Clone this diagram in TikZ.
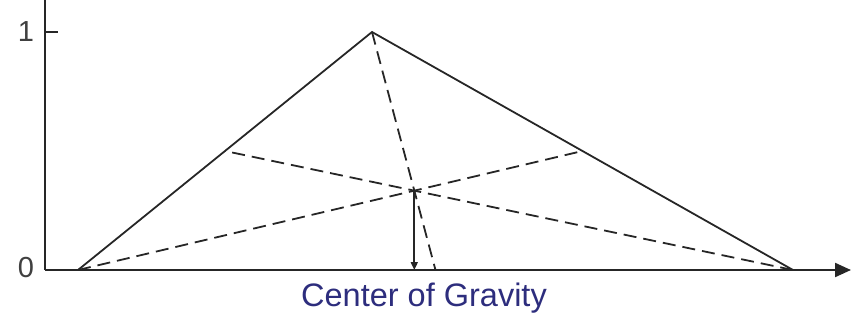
\documentclass[tikz,border=0pt]{standalone}
\usepackage{fontspec}
\setmainfont{Liberation Sans}
\usetikzlibrary{arrows.meta,calc}
\definecolor{labelblue}{RGB}{45,45,125}
\begin{document}
\begin{tikzpicture}[x=1pt,y=-1pt,
  axis/.style={line width=2.2pt,black!85},
  edge/.style={line width=1.8pt,black!85},
  median/.style={line width=1.8pt,black!85,dash pattern=on 13pt off 7pt},
  lbl/.style={font=\fontsize{29}{32}\selectfont,text=black!75,inner sep=0pt}]
\useasboundingbox (0,0) rectangle (855,327);
\coordinate (O) at (45,270);
\coordinate (Ytop) at (45,0);
\coordinate (Xend) at (851,270);
\coordinate (T1) at (58,32);
\coordinate (T1a) at (45,32);
\coordinate (A) at (78,270);
\coordinate (B) at (372,32);
\coordinate (C) at (793,270);
\coordinate (MAB) at ($ (A)!0.5!(B) $);
\coordinate (MBC) at ($ (B)!0.5!(C) $);
\coordinate (MAC) at ($ (A)!0.5!(C) $);
\coordinate (G) at (414.3,190.7);
\coordinate (Gx) at (414.3,270);
\draw[axis] (Ytop) -- (O);
\draw[axis,-{Triangle[length=16pt,width=14pt]}] (O) -- (Xend);
\draw[axis] (T1a) -- (T1);
\node[lbl] (one) at (26,32) {1};
\node[lbl] (zero) at (26,268) {0};
\draw[edge] (A) -- (B) -- (C);
\draw[median] (A) -- (MBC);
\draw[median] (C) -- (MAB);
\draw[median] (B) -- (MAC);
\draw[edge,-{Triangle[length=8pt,width=7pt]}] (G) -- (Gx);
\node[font=\fontsize{32.5}{35}\selectfont,text=labelblue,inner sep=0pt] (cog) at (424,298) {Center of Gravity};
\end{tikzpicture}
\end{document}
